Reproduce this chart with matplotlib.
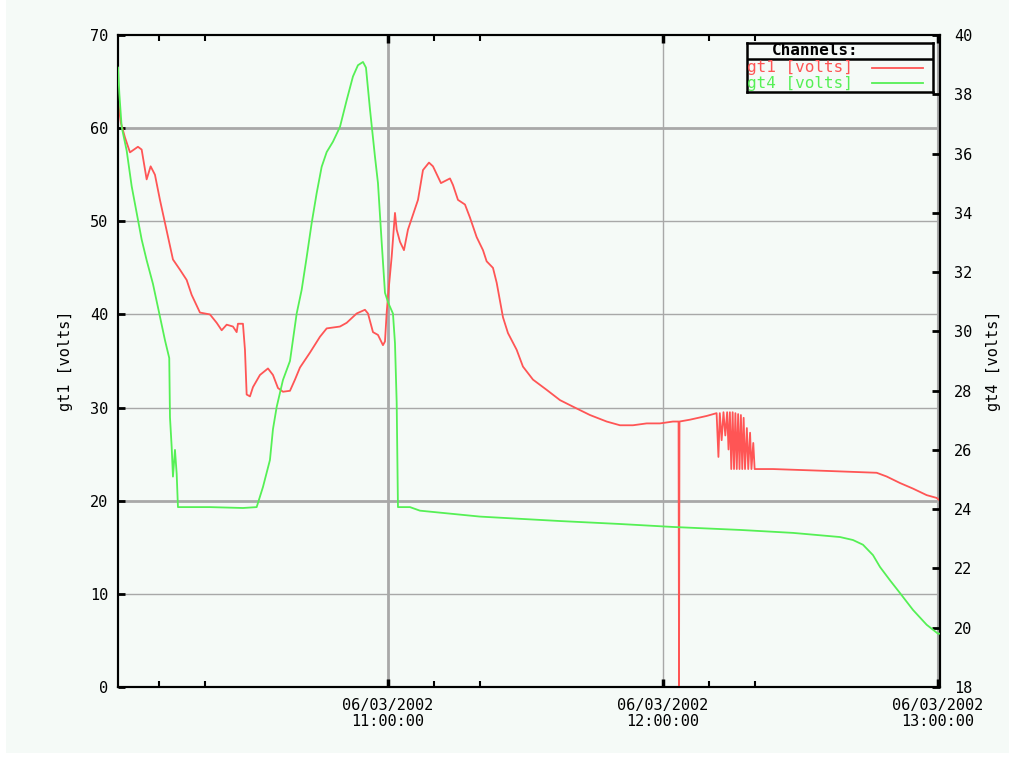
import matplotlib
matplotlib.use("Agg")
import matplotlib.pyplot as plt
from matplotlib.patches import Rectangle

# ---- data (time = minutes after 10:00:00 on 06/03/2002) ----
gt1_time = [1.1, 1.71, 2.62, 3.71, 5.45, 6.26, 7.35, 8.22, 9.16, 10.25, 11.35, 12.44,
            13.09, 14.62, 16.08, 17.17, 18.98, 21.16, 22.63, 23.72, 24.81, 26.18, 26.99,
            27.27, 28.36, 28.80, 29.17, 29.89, 30.55, 32.07, 33.82, 34.91, 36.0, 37.09,
            38.62, 39.71, 40.80, 42.98, 45.16, 46.63, 49.53, 50.99, 53.17, 54.98, 55.64,
            56.73, 57.82, 58.91, 59.35, 59.72, 60.0, 60.81, 61.53, 61.9, 62.62, 63.49,
            64.36, 65.45, 66.55, 67.64, 68.95, 69.82, 71.56, 73.53, 74.18, 75.27, 76.8,
            77.89, 79.35, 80.73, 81.53, 82.91, 83.72, 85.09, 86.18, 88.08, 89.45, 91.64,
            94.63, 97.53, 100.36, 104.07, 107.72, 110.62, 113.45, 116.44, 119.35, 122.18,
            123.4, 123.5, 123.6, 125.89, 129.53, 131.7,
            132.1, 132.4, 132.8, 133.2, 133.6, 134.0, 134.3, 134.6, 134.9, 135.2, 135.5,
            135.8, 136.1, 136.4, 136.7, 137.0, 137.3, 137.6, 137.9, 138.3, 138.6, 139.0,
            139.3, 139.7, 140.0,
            144.0, 155.71, 166.62, 168.8, 171.71, 174.55, 177.53, 179.71, 180.44]
gt1_volts = [62.9, 60.6, 59.0, 57.4, 58.0, 57.7, 54.5, 55.9, 55.0, 52.3, 49.8, 47.3,
             45.9, 44.8, 43.7, 42.1, 40.2, 40.0, 39.1, 38.3, 38.9, 38.7, 38.1,
             39.0, 39.0, 36.2, 31.4, 31.2, 32.2, 33.5, 34.2, 33.5, 32.1, 31.7,
             31.8, 33.0, 34.3, 35.9, 37.6, 38.5, 38.7, 39.1, 40.1, 40.5, 40.1,
             38.1, 37.8, 36.7, 37.1, 40.2, 41.9, 46.2, 50.9, 49.1, 47.8, 46.9,
             49.1, 50.7, 52.3, 55.5, 56.3, 55.9, 54.1, 54.6, 53.9, 52.3, 51.8,
             50.4, 48.3, 46.9, 45.7, 45.0, 43.4, 39.7, 38.0, 36.2, 34.4, 33.0,
             31.9, 30.8, 30.1, 29.2, 28.5, 28.1, 28.1, 28.3, 28.3, 28.5,
             28.5, 0.0, 28.5, 28.7, 29.1, 29.4,
             24.7, 29.4, 26.5, 29.5, 27.0, 29.5, 25.5, 29.5, 23.4, 29.5, 23.4,
             29.4, 23.4, 29.3, 23.4, 29.2, 23.4, 28.9, 23.4, 27.8, 23.4, 27.3,
             23.4, 26.2, 23.4,
             23.4, 23.2, 23.0, 22.6, 21.9, 21.3, 20.6, 20.3, 20.0]

gt4_time = [1.1, 1.4, 1.90, 2.99, 4.08, 5.17, 6.26, 7.35, 8.73, 10.25, 11.35, 12.28,
            12.44, 12.81, 13.09, 13.53, 13.90, 14.18, 21.16, 28.36, 31.35, 32.73, 34.25,
            34.91, 35.72, 37.09, 38.62, 40.08, 41.17, 42.26, 43.35, 44.44, 45.53, 46.63,
            48.0, 49.53, 50.99, 52.36, 53.45, 54.55, 55.2, 56.07, 57.16, 57.82, 58.63,
            59.35, 60.07, 61.09, 61.53, 61.9, 62.18, 64.8, 66.98, 80.07, 97.53, 110.62,
            122.18, 136.8, 148.36, 158.62, 161.45, 163.64, 165.82, 167.35, 169.53, 171.71,
            174.55, 177.53, 180.0, 180.44]
gt4_volts = [38.9, 38.0, 36.9, 36.1, 34.9, 34.0, 33.1, 32.4, 31.6, 30.5, 29.7, 29.1,
             27.1, 26.1, 25.1, 26.0, 25.2, 24.07, 24.07, 24.04, 24.07, 24.75, 25.66,
             26.7, 27.45, 28.36, 29.0, 30.6, 31.4, 32.5, 33.65, 34.66, 35.55, 36.05,
             36.4, 36.9, 37.8, 38.6, 38.98, 39.09, 38.9, 37.5, 35.9, 35.0, 33.0,
             31.3, 30.96, 30.6, 29.6, 27.6, 24.07, 24.07, 23.95, 23.75, 23.6, 23.5,
             23.4, 23.3, 23.2, 23.06, 22.96, 22.8, 22.45, 22.05, 21.6, 21.17,
             20.6, 20.1, 19.8, 19.8]

major_ticks = [60, 120, 180]
major_labels = ["06/03/2002\n11:00:00", "06/03/2002\n12:00:00", "06/03/2002\n13:00:00"]
minor_ticks = [10, 20, 70, 80, 130, 140]
left_ticks = [0, 10, 20, 30, 40, 50, 60, 70]
right_ticks = [18, 20, 22, 24, 26, 28, 30, 32, 34, 36, 38, 40]

RED = "#ff5555"
GREEN = "#55f055"
BG = "#f5faf7"
GRID = "#a8a8a8"
MONO = "DejaVu Sans Mono"
FS = 11

fig = plt.figure(figsize=(10.15, 7.57), dpi=100, facecolor="white")
fig.patches.append(Rectangle((6 / 1015, 4 / 757), 1003 / 1015, 753 / 757,
                             transform=fig.transFigure, facecolor=BG,
                             edgecolor="none", zorder=-10))

ax = fig.add_axes([118 / 1015, 1 - 687 / 757, 822 / 1015, 652 / 757])
ax.set_facecolor(BG)
ax.set_xlim(1.1, 180.44)
ax.set_ylim(0, 70)

# grid
for v in [10, 30, 40, 50]:
    ax.axhline(v, color=GRID, lw=1.0, zorder=0)
for v in [20, 60]:
    ax.axhline(v, color=GRID, lw=2.0, zorder=0)
ax.axvline(60, color=GRID, lw=2.0, zorder=0)
ax.axvline(120, color=GRID, lw=1.0, zorder=0)
ax.axvline(179.9, color=GRID, lw=1.5, zorder=0)

ax.plot(gt1_time, gt1_volts, color=RED, lw=1.3, zorder=3)

ax.set_xticks(major_ticks)
ax.set_xticklabels(major_labels, fontfamily=MONO, fontsize=FS, linespacing=1.1)
ax.set_xticks(minor_ticks, minor=True)
ax.set_yticks(left_ticks)
ax.set_yticklabels([str(t) for t in left_ticks], fontfamily=MONO, fontsize=FS)
ax.tick_params(axis="x", which="major", direction="in", length=6, width=2.5,
               top=True, pad=8)
ax.tick_params(axis="x", which="minor", direction="in", length=4, width=1.5,
               top=True)
ax.tick_params(axis="y", direction="in", length=5, width=2, pad=7)
ax.set_ylabel("gt1 [volts]", fontfamily=MONO, fontsize=FS, labelpad=12)
for s in ax.spines.values():
    s.set_color("black")
    s.set_linewidth(1.5)

ax2 = ax.twinx()
ax2.set_ylim(18, 40)
ax2.plot(gt4_time, gt4_volts, color=GREEN, lw=1.3, zorder=3)
ax2.set_yticks(right_ticks)
ax2.set_yticklabels([str(t) for t in right_ticks], fontfamily=MONO, fontsize=FS)
ax2.tick_params(axis="y", direction="in", length=6, width=2, pad=10)
ax2.set_ylabel("gt4 [volts]", fontfamily=MONO, fontsize=FS, labelpad=10)
for s in ax2.spines.values():
    s.set_color("black")
    s.set_linewidth(1.5)

# legend box
lg = fig.add_axes([747 / 1015, 1 - 92 / 757, 186 / 1015, 49 / 757])
lg.set_facecolor(BG)
lg.set_xlim(0, 1)
lg.set_ylim(0, 1)
lg.set_xticks([])
lg.set_yticks([])
for s in lg.spines.values():
    s.set_color("black")
    s.set_linewidth(1.8)
lg.axhline(0.67, color="black", lw=1.8)
lg.text(0.365, 0.84, "Channels:", ha="center", va="center", fontfamily=MONO,
        fontsize=FS + 0.5, fontweight="bold", color="black")
lg.text(0.0, 0.49, "gt1 [volts]", ha="left", va="center", fontfamily=MONO,
        fontsize=FS + 0.5, color=RED)
lg.text(0.0, 0.17, "gt4 [volts]", ha="left", va="center", fontfamily=MONO,
        fontsize=FS + 0.5, color=GREEN)
lg.plot([0.672, 0.946], [0.5, 0.5], color=RED, lw=1.3)
lg.plot([0.672, 0.946], [0.18, 0.18], color=GREEN, lw=1.3)

fig.savefig("out.png", dpi=100, facecolor=fig.get_facecolor())
